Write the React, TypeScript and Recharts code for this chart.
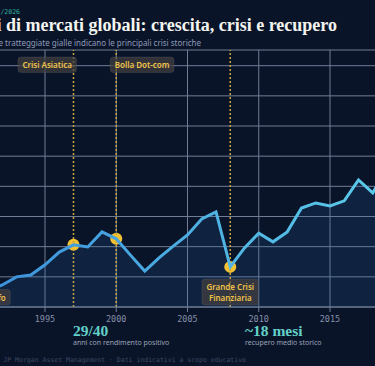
import React from "react";
import {
  ComposedChart,
  Area,
  Line,
  Scatter,
  XAxis,
  YAxis,
  CartesianGrid,
  ReferenceLine
} from "recharts";

const years = [
  1985, 1986, 1987, 1988, 1989, 1990, 1991, 1992, 1993, 1994,
  1995, 1996, 1997, 1998, 1999, 2000, 2001, 2002, 2003, 2004,
  2005, 2006, 2007, 2008, 2009, 2010, 2011, 2012, 2013, 2014,
  2015, 2016, 2017, 2018, 2019, 2020, 2021, 2022, 2023, 2024
];
const values = [
  22, 30, 33, 42, 58, 45, 55, 73, 100, 106,
  140, 182, 206, 199, 249, 226, 172, 119, 163, 202,
  239, 292, 315, 133, 196, 245, 216, 249, 328, 345,
  335, 352, 421, 378, 462, 430, 540, 455, 530, 610
];
const xTicks = [1985, 1990, 1995, 2000, 2005, 2010, 2015, 2020];
const yTicks = [0, 100, 200, 300, 400, 500, 600, 700, 800];

const crisisYears = [1990, 1997, 2000, 2008];
const crisisNames = [
  "Guerra del Golfo",
  "Crisi Asiatica",
  "Bolla Dot-com",
  "Grande Crisi Finanziaria"
];

const statValues = ["29/40", "~18 mesi"];
const statLabels = ["anni con rendimento positivo", "recupero medio storico"];

const series = years.map((year, i) => ({ year, value: values[i] }));
const crisisDots = crisisYears.map((year) => ({
  year,
  value: values[years.indexOf(year)]
}));

// where each tag sits: above or below the plot, and how it hangs off the line
const tagPlace: Record<number, { place: string; anchor: string }> = {
  1990: { place: "bottom", anchor: "middle" },
  1997: { place: "top", anchor: "end" },
  2000: { place: "top", anchor: "start" },
  2008: { place: "bottom", anchor: "middle" }
};

const BG = "#0a1429";
const GRID = "#717c96";
const GOLD = "#f0c24a";
const TAG_FONT = "600 8px 'Noto Sans'";

let ctx: CanvasRenderingContext2D | null = null;
const measure = (s: string) => {
  if (!ctx && typeof document !== "undefined") {
    ctx = document.createElement("canvas").getContext("2d");
  }
  if (!ctx) return s.length * 3.8;
  ctx.font = TAG_FONT;
  return ctx.measureText(s).width;
};

const CrisisTag = (props: any) => {
  const { viewBox, name, place, anchor } = props;
  if (!viewBox) return null;
  const { x, y, height } = viewBox;
  const words = name.split(" ");
  const lines =
    name.length > 18 ? [words.slice(0, 2).join(" "), words.slice(2).join(" ")] : [name];
  const w = Math.max(...lines.map(measure)) + 9;
  const h = lines.length * 10.5 + 5;
  const left = anchor === "end" ? x + 3 - w : anchor === "start" ? x - 6 : x - w / 2;
  const top = place === "top" ? y + 7 : y + height - 2 - h;
  return (
    <g>
      <rect
        x={left}
        y={top}
        width={w}
        height={h}
        rx={3}
        fill="rgba(66,64,62,0.72)"
        stroke="rgba(255,255,255,0.08)"
      />
      {lines.map((l: string, i: number) => (
        <text
          key={i}
          x={left + w / 2}
          y={top + 11 + i * 10.5}
          textAnchor="middle"
          fill={GOLD}
          style={{ font: TAG_FONT }}
        >
          {l}
        </text>
      ))}
    </g>
  );
};

const Dot = (p: any) => <circle cx={p.cx} cy={p.cy} r={6} fill="#f2c232" />;

export default function App() {
  return (
    <div
      style={{
        position: "fixed",
        left: 0,
        top: 0,
        width: 375,
        height: 366,
        overflow: "hidden",
        background: BG,
        fontFamily: "'Noto Sans', sans-serif"
      }}
    >
      <div style={{ position: "absolute", left: -110, top: 0 }}>
        <ComposedChart
          width={580}
          height={332}
          data={series}
          margin={{ top: 50, right: 11.75, bottom: 0, left: 12.5 }}
        >
          <defs>
            <linearGradient id="lineGrad" x1="0" y1="0" x2="1" y2="0">
              <stop offset="0%" stopColor="#3584d8" />
              <stop offset="100%" stopColor="#62d6ec" />
            </linearGradient>
          </defs>
          <CartesianGrid stroke={GRID} strokeWidth={1} />
          <XAxis
            dataKey="year"
            type="number"
            domain={[1985, 2024]}
            ticks={xTicks}
            interval={0}
            height={25}
            tickSize={5}
            tickMargin={4}
            axisLine={{ stroke: GRID }}
            tickLine={{ stroke: GRID }}
            tick={{ fill: "#8590a8", fontSize: 8.5, fontFamily: "'DejaVu Sans Mono', monospace" }}
          />
          <YAxis hide domain={[0, 852]} ticks={yTicks} allowDataOverflow />
          {crisisYears.map((yr, i) => (
            <ReferenceLine
              key={yr}
              x={yr}
              stroke="#c9a43a"
              strokeWidth={1.5}
              strokeDasharray="2 2"
              label={
                <CrisisTag
                  name={crisisNames[i]}
                  place={tagPlace[yr].place}
                  anchor={tagPlace[yr].anchor}
                />
              }
            />
          ))}
          <Area
            type="linear"
            dataKey="value"
            stroke="none"
            fill="#2a6fb0"
            fillOpacity={0.17}
            isAnimationActive={false}
          />
          <Scatter
            data={crisisDots}
            dataKey="value"
            shape={<Dot />}
            zIndex={300}
            isAnimationActive={false}
          />
          <Line
            type="linear"
            dataKey="value"
            stroke="url(#lineGrad)"
            strokeWidth={3}
            dot={false}
            activeDot={false}
            zIndex={700}
            isAnimationActive={false}
          />
        </ComposedChart>
      </div>
      <svg
        width={375}
        height={366}
        style={{ position: "absolute", left: 0, top: 0, pointerEvents: "none" }}
      >
        <text
          x={20}
          y={14}
          textAnchor="end"
          fill="#2fae9c"
          style={{ font: "6.5px 'DejaVu Sans Mono', monospace" }}
        >
          Aggiornato 07/2026
        </text>
        <text
          x={337}
          y={31}
          textAnchor="end"
          fill="#f4f4f0"
          style={{ font: "bold 18px 'Liberation Serif', serif" }}
        >
          Quarant'anni di mercati globali: crescita, crisi e recupero
        </text>
        <text
          x={201}
          y={46}
          textAnchor="end"
          fill="#8e9ab8"
          style={{ font: "8px 'Noto Sans', sans-serif" }}
        >
          Le linee tratteggiate gialle indicano le principali crisi storiche
        </text>
        {statValues.map((v, i) => (
          <g key={v}>
            <text
              x={i === 0 ? 73 : 245}
              y={336}
              fill="#62d0c8"
              style={{ font: "bold 15.5px 'Liberation Serif', serif" }}
            >
              {v}
            </text>
            <text
              x={i === 0 ? 73 : 245}
              y={345}
              fill="#9aa3b8"
              style={{ font: "7px 'Noto Sans', sans-serif" }}
            >
              {statLabels[i]}
            </text>
          </g>
        ))}
        <text
          x={246}
          y={362}
          textAnchor="end"
          fill="#3d4862"
          style={{ font: "6.5px 'DejaVu Sans Mono', monospace" }}
        >
          Fonte: JP Morgan Asset Management  ·  Dati indicativi a scopo educativo
        </text>
      </svg>
    </div>
  );
}
